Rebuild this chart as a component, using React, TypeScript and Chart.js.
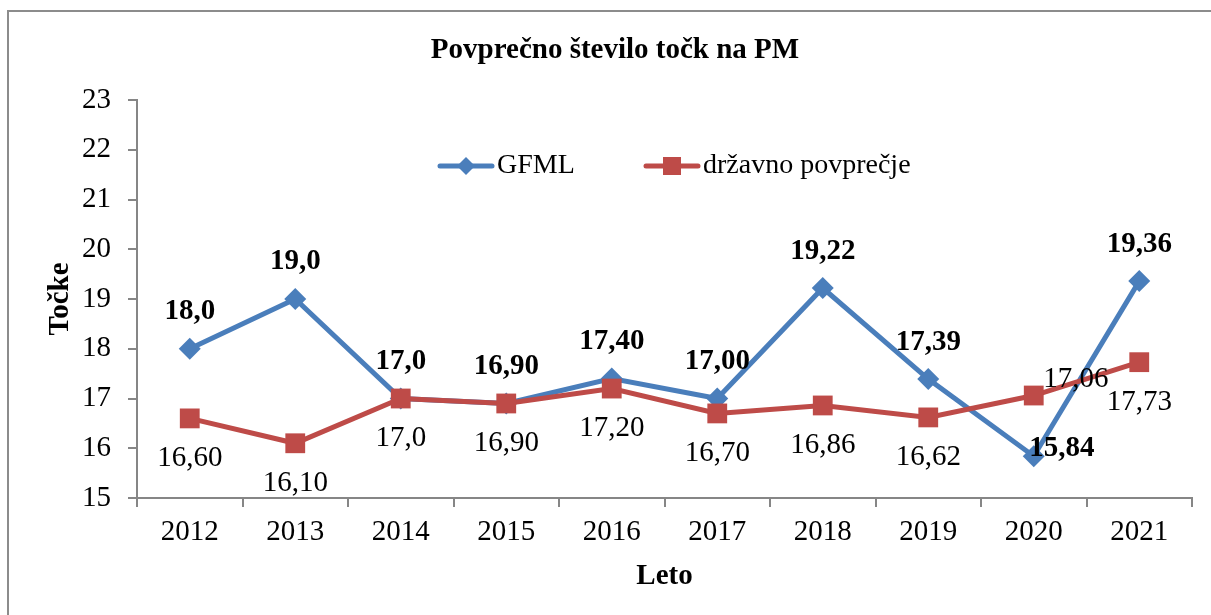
import React, { useEffect, useRef } from 'react';
import { Chart, registerables } from 'chart.js';

Chart.register(...registerables);

const years = ['2012', '2013', '2014', '2015', '2016', '2017', '2018', '2019', '2020', '2021'];
const gfmlValues = [18.0, 19.0, 17.0, 16.9, 17.4, 17.0, 19.22, 17.39, 15.84, 19.36];
const drzavnoValues = [16.6, 16.1, 17.0, 16.9, 17.2, 16.7, 16.86, 16.62, 17.06, 17.73];
const gfmlLabels = ['18,0', '19,0', '17,0', '16,90', '17,40', '17,00', '19,22', '17,39', '15,84', '19,36'];
const drzavnoLabels = ['16,60', '16,10', '17,0', '16,90', '17,20', '16,70', '16,86', '16,62', '17,06', '17,73'];
const yMin = 15;
const yMax = 23;
const yStep = 1;

const TITLE = 'Povprečno število točk na PM';
const Y_TITLE = 'Točke';
const X_TITLE = 'Leto';
const SERIES_NAMES = ['GFML', 'državno povprečje'];

const BLUE = '#4A7EBB';
const RED = '#BE4B48';
const AXIS = '#868686';
const FONT = '"Liberation Serif", "Times New Roman", serif';
const FS = 29;
const LEGEND_FS = 28;

// label placement (style): default offsets and exceptions
const labelOffsets: Array<{ dx: number; dy: number; except: Record<number, { dx: number; dy: number }>; bold: boolean }> = [
  { dx: 0, dy: -37, except: { 8: { dx: 28, dy: -8 } }, bold: true },
  { dx: 0, dy: 40, except: { 8: { dx: 42, dy: -16 } }, bold: false },
];

const framePlugin = {
  id: 'frame',
  beforeDraw(chart: any) {
    const ctx = chart.ctx;
    ctx.save();
    ctx.fillStyle = '#ffffff';
    ctx.fillRect(0, 0, chart.width, chart.height);
    ctx.strokeStyle = '#8c8c8c';
    ctx.lineWidth = 2;
    ctx.strokeRect(8, 11, chart.width + 50, chart.height + 50);
    ctx.restore();
  },
};

const textPlugin = {
  id: 'texts',
  afterDraw(chart: any) {
    const ctx = chart.ctx;
    const ca = chart.chartArea;
    ctx.save();
    ctx.fillStyle = '#000';
    // title
    ctx.font = `bold ${FS}px ${FONT}`;
    ctx.textAlign = 'center';
    ctx.textBaseline = 'middle';
    ctx.fillText(TITLE, 615, 51);
    // x title
    ctx.fillText(X_TITLE, (ca.left + ca.right) / 2, 577);
    // y title
    ctx.save();
    ctx.translate(61, (ca.top + ca.bottom) / 2);
    ctx.rotate(-Math.PI / 2);
    ctx.fillText(Y_TITLE, 0, 0);
    ctx.restore();

    // legend
    const ly = 166;
    ctx.lineCap = 'round';
    ctx.lineWidth = 5;
    ctx.strokeStyle = BLUE;
    ctx.beginPath();
    ctx.moveTo(440, ly);
    ctx.lineTo(492, ly);
    ctx.stroke();
    ctx.fillStyle = BLUE;
    ctx.beginPath();
    ctx.moveTo(466 - 9, ly);
    ctx.lineTo(466, ly - 9);
    ctx.lineTo(466 + 9, ly);
    ctx.lineTo(466, ly + 9);
    ctx.closePath();
    ctx.fill();
    ctx.strokeStyle = RED;
    ctx.beginPath();
    ctx.moveTo(646, ly);
    ctx.lineTo(698, ly);
    ctx.stroke();
    ctx.fillStyle = RED;
    ctx.fillRect(672 - 9, ly - 9, 18, 18);
    ctx.fillStyle = '#000';
    ctx.font = `${LEGEND_FS}px ${FONT}`;
    ctx.textAlign = 'left';
    ctx.fillText(SERIES_NAMES[0], 497, ly);
    ctx.fillText(SERIES_NAMES[1], 703, ly);
    ctx.restore();
  },
};

const dataLabelPlugin = {
  id: 'dataLabels',
  afterDatasetsDraw(chart: any) {
    const ctx = chart.ctx;
    const texts = [gfmlLabels, drzavnoLabels];
    ctx.save();
    ctx.fillStyle = '#000';
    ctx.textAlign = 'center';
    ctx.textBaseline = 'middle';
    chart.data.datasets.forEach((_: any, di: number) => {
      const meta = chart.getDatasetMeta(di);
      const cfg = labelOffsets[di];
      ctx.font = `${cfg.bold ? 'bold ' : ''}${FS}px ${FONT}`;
      meta.data.forEach((pt: any, i: number) => {
        const off = cfg.except[i] || { dx: cfg.dx, dy: cfg.dy };
        ctx.fillText(texts[di][i], pt.x + off.dx, pt.y + off.dy);
      });
    });
    ctx.restore();
  },
};

export default function App() {
  const canvasRef = useRef<HTMLCanvasElement | null>(null);

  useEffect(() => {
    const canvas = canvasRef.current;
    if (!canvas) return;
    const chart = new Chart(canvas, {
      type: 'line',
      data: {
        labels: years,
        datasets: [
          {
            label: SERIES_NAMES[0],
            data: gfmlValues,
            borderColor: BLUE,
            backgroundColor: BLUE,
            borderWidth: 5,
            pointStyle: 'rectRot',
            pointRadius: 11,
            pointBorderWidth: 0,
            pointBackgroundColor: BLUE,
            tension: 0,
            order: 1,
          },
          {
            label: SERIES_NAMES[1],
            data: drzavnoValues,
            borderColor: RED,
            backgroundColor: RED,
            borderWidth: 5,
            pointStyle: 'rect',
            pointRadius: 14,
            pointBorderWidth: 0,
            pointBackgroundColor: RED,
            tension: 0,
            order: 0,
          },
        ],
      },
      options: {
        responsive: false,
        animation: false,
        layout: { padding: { top: 100, right: 19, left: 0, bottom: 0 } },
        plugins: {
          legend: { display: false },
          title: { display: false },
          tooltip: { enabled: false },
        },
        scales: {
          x: {
            type: 'category',
            offset: true,
            grid: {
              offset: true,
              drawOnChartArea: false,
              drawTicks: true,
              tickLength: 9,
              color: AXIS,
              lineWidth: 2,
            },
            border: { color: AXIS, width: 2 },
            ticks: {
              color: '#000',
              font: { family: FONT, size: FS },
              padding: 8,
              maxRotation: 0,
              autoSkip: false,
            },
            afterFit: (scale: any) => {
              scale.height = 117;
            },
          },
          y: {
            min: yMin,
            max: yMax,
            grid: {
              drawOnChartArea: false,
              drawTicks: true,
              tickLength: 9,
              color: AXIS,
              lineWidth: 2,
            },
            border: { color: AXIS, width: 2 },
            ticks: {
              stepSize: yStep,
              color: '#000',
              font: { family: FONT, size: FS },
              padding: 17,
            },
            afterFit: (scale: any) => {
              scale.width = 137;
            },
          },
        },
      },
      plugins: [framePlugin, dataLabelPlugin, textPlugin],
    });
    return () => chart.destroy();
  }, []);

  return (
    <div style={{ position: 'fixed', left: 0, top: 0, width: 1211, height: 615, background: '#fff' }}>
      <canvas ref={canvasRef} width={1211} height={615} style={{ display: 'block' }} />
    </div>
  );
}
